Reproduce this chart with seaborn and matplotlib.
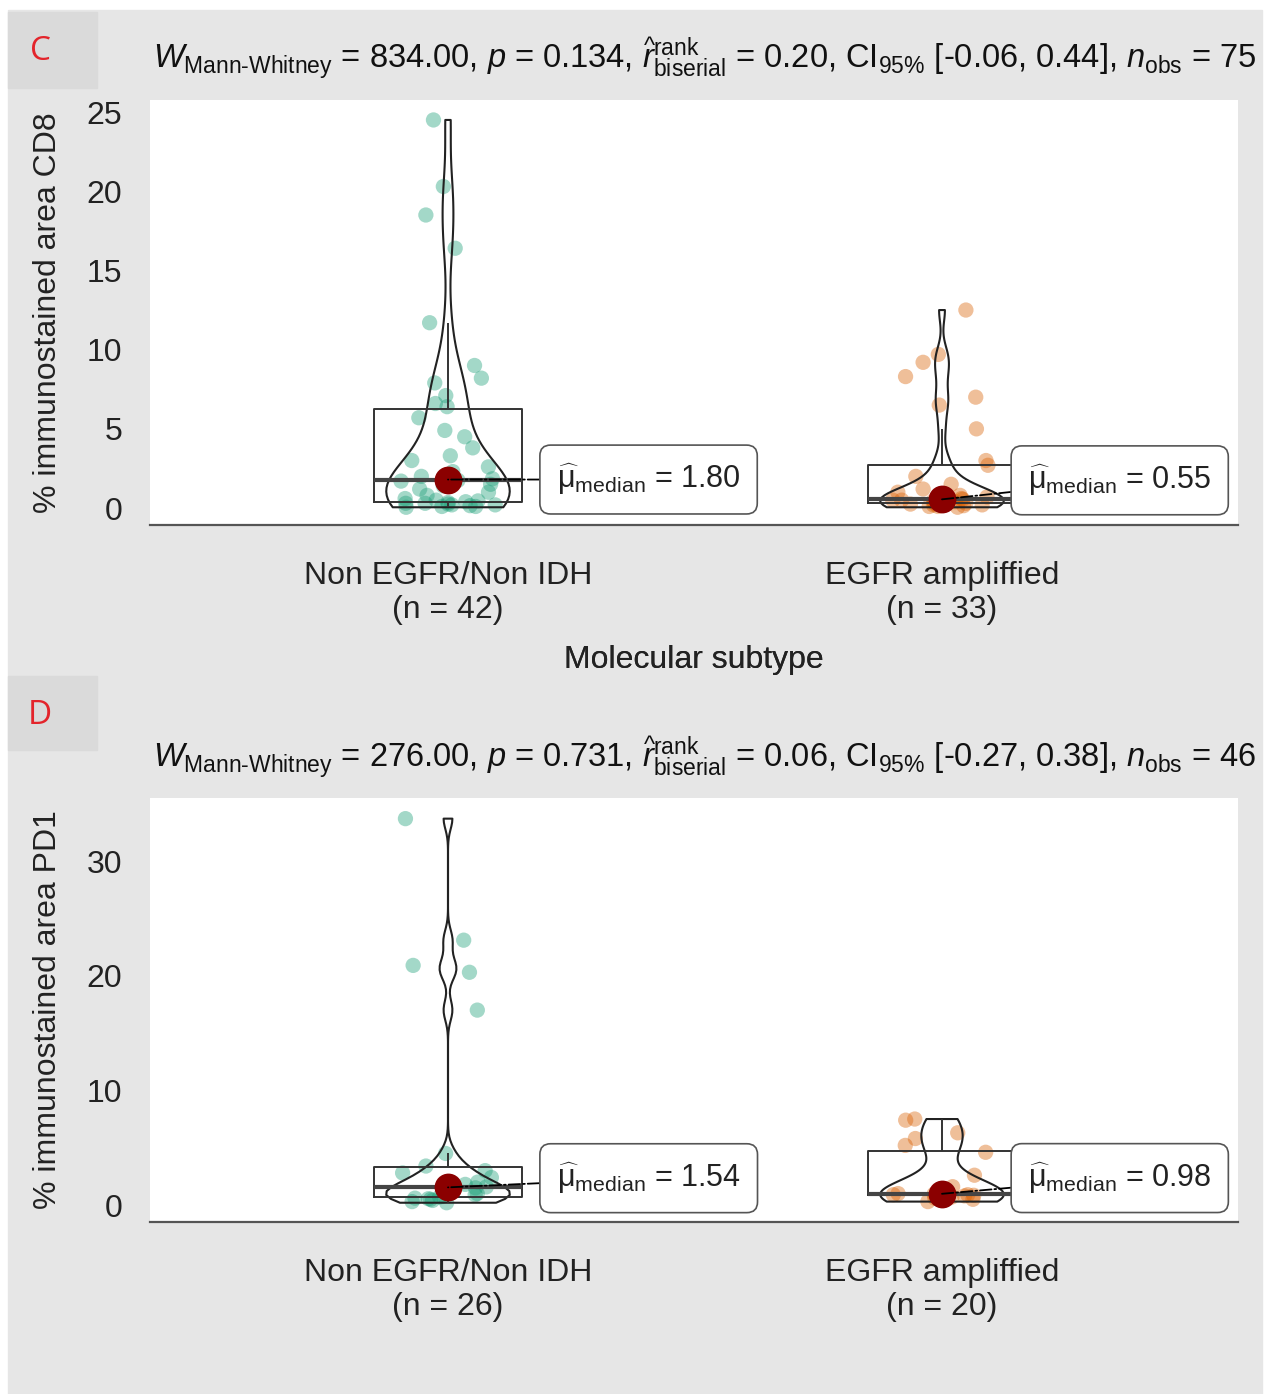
import numpy as np
import pandas as pd
import matplotlib
matplotlib.use("Agg")
import matplotlib.pyplot as plt
import matplotlib.patches as mpatches
import seaborn as sns

# ---------------- data ----------------
groups = ["Non EGFR/Non IDH", "EGFR ampliffied"]

cd8_non = [0.05, 0.1, 0.1, 0.15, 0.2, 0.2, 0.25, 0.3, 0.3, 0.35, 0.4, 0.45,
           0.5, 0.6, 0.8, 1.0, 1.2, 1.4, 1.5, 1.7, 1.75, 1.85,
           2.0, 2.3, 2.6, 3.0, 3.3, 3.8, 4.5, 4.9, 5.7, 6.4,
           6.6, 7.1, 7.9, 8.2, 9.0, 11.7, 16.4, 18.5, 20.3, 24.5]
cd8_egfr = [0.05, 0.1, 0.1, 0.15, 0.2, 0.2, 0.25, 0.3, 0.3,
            0.35, 0.4, 0.4, 0.45, 0.5, 0.5, 0.55, 0.55,
            0.6, 0.7, 0.8, 1.0, 1.2, 1.5, 2.0, 2.7,
            3.0, 5.0, 6.5, 7.0, 8.3, 9.2, 9.7, 12.5]
pd1_non = [0.2, 0.3, 0.4, 0.5, 0.55, 0.6, 0.7, 0.75, 0.9, 1.0, 1.2, 1.4, 1.5,
           1.58, 1.8, 2.0, 2.4, 2.8, 3.0, 3.4, 4.5, 17.0, 20.3, 20.9, 23.1, 33.7]
pd1_egfr = [0.3, 0.5, 0.6, 0.7, 0.8, 0.85, 0.9, 0.9, 0.95, 0.96, 1.0, 1.2,
            1.6, 2.6, 4.6, 5.2, 5.8, 6.3, 7.4, 7.5]

panel_letters = ["C", "D"]
y_labels = ["% immunostained area CD8", "% immunostained area PD1"]
x_label = "Molecular subtype"
W_vals = [834.00, 276.00]
p_vals = ["0.134", "0.731"]
r_vals = [0.20, 0.06]
ci_lo = [-0.06, -0.27]
ci_hi = [0.44, 0.38]
n_obs = [75, 46]
y_ticks = [[0, 5, 10, 15, 20, 25], [0, 10, 20, 30]]

panels = [(cd8_non, cd8_egfr), (pd1_non, pd1_egfr)]

# ---------------- style ----------------
sns.set_theme(style="white")
plt.rcParams["font.family"] = ["Liberation Sans", "DejaVu Sans"]
plt.rcParams["mathtext.fontset"] = "custom"
plt.rcParams["mathtext.rm"] = "Liberation Sans"
plt.rcParams["mathtext.it"] = "Liberation Sans:italic"
plt.rcParams["mathtext.bf"] = "Liberation Sans:bold"
plt.rcParams["mathtext.sf"] = "Liberation Sans"

W, H = 1265, 1394
fig = plt.figure(figsize=(W / 100, H / 100), dpi=100, facecolor="white")
BG = "#e6e6e6"
fig.patches.append(mpatches.Rectangle((8 / W, 0), 1254 / W, (H - 10) / H,
                                      transform=fig.transFigure, color=BG, zorder=-10))

pal = ["#1B9E77", "#D95F02"]
line_col = "#333333"

# layout (pixels)
ax_left, ax_right = 150, 1238
ax_tops = [100, 798]
ax_bottoms = [525, 1222]
ylims = [(-1.07, 25.76), (-1.48, 35.5)]
title_y = [58, 757]
letter_box_y = [(12, 88), (676, 750)]
# label offsets (x in category units, y in data units) for the median labels
lab_dx = [[0.22, 0.174], [0.22, 0.174]]
lab_dy = [[0.0, 1.2], [0.8, 1.37]]

np.random.seed(7)

for k in range(2):
    top, bot = ax_tops[k], ax_bottoms[k]
    ax = fig.add_axes([ax_left / W, 1 - bot / H, (ax_right - ax_left) / W, (bot - top) / H])
    ax.set_facecolor("white")
    a, b = panels[k]
    df = pd.DataFrame({"group": [groups[0]] * len(a) + [groups[1]] * len(b),
                       "value": a + b})

    sns.stripplot(data=df, x="group", y="value", hue="group", order=groups,
                  hue_order=groups, palette=pal, alpha=0.4, size=11, jitter=0.1,
                  linewidth=0, legend=False, ax=ax, zorder=1)

    sns.boxplot(data=df, x="group", y="value", order=groups, ax=ax, width=0.3,
                fill=False, color=line_col, linewidth=1.4, showfliers=False,
                showcaps=False, medianprops={"linewidth": 3.0, "color": "#444444"})

    for gi, vals in enumerate((a, b)):
        v = np.asarray(vals)
        sd = v.std(ddof=1)
        iqr = np.subtract(*np.percentile(v, [75, 25]))
        bw = 0.9 * min(sd, iqr / 1.34) * len(v) ** (-0.2)
        sub = df[df["group"] == groups[gi]]
        sns.violinplot(data=sub, x="group", y="value", order=groups, ax=ax,
                       fill=False, inner=None, cut=0, bw_method=bw / sd,
                       density_norm="width", width=0.25, color="#222222",
                       linewidth=1.5)

    sns.pointplot(data=df, x="group", y="value", order=groups, estimator="median",
                  errorbar=None, color="#8B0000", markers="o", markersize=18,
                  linestyle="none", ax=ax, zorder=6)

    meds = df.groupby("group")["value"].median()
    for gi, g in enumerate(groups):
        m = meds[g]
        ax.annotate(r"$\widehat{\mathrm{\mu}}_{\mathrm{median}}$ = %.2f" % m,
                    xy=(gi, m), xytext=(gi + lab_dx[k][gi], m + lab_dy[k][gi]),
                    ha="left", va="center", fontsize=22, color="#222222", zorder=7,
                    bbox=dict(boxstyle="round,pad=0.55,rounding_size=0.35",
                              fc="white", ec="#555555", lw=1.2),
                    arrowprops=dict(arrowstyle="-", linestyle="-.", color="black",
                                    lw=1.3, shrinkA=0, shrinkB=0))

    ax.set_xlim(-(448 - ax_left) / 494, 1 + (ax_right - 942) / 494)
    ax.set_ylim(*ylims[k])
    ax.set_yticks(y_ticks[k])
    ax.set_yticklabels([str(t) for t in y_ticks[k]])
    n_counts = [len(a), len(b)]
    ax.set_xticks([0, 1])
    ax.set_xticklabels([f"{g}\n(n = {n})" for g, n in zip(groups, n_counts)],
                       linespacing=1.15)
    ax.tick_params(axis="both", length=0, labelsize=23, colors="#222222")
    ax.tick_params(axis="x", pad=26)
    ax.tick_params(axis="y", pad=20)
    for s in ["left", "top", "right"]:
        ax.spines[s].set_visible(False)
    ax.spines["bottom"].set_color("#555555")
    ax.spines["bottom"].set_linewidth(1.6)

    ax.set_xlabel(x_label, fontsize=23, color="#222222")
    ax.xaxis.label.set_va("center")
    ax.xaxis.set_label_coords(0.5, (bot - 660) / (bot - top))
    ax.set_ylabel(y_labels[k], fontsize=23, color="#222222")
    ax.yaxis.label.set_va("center")
    ax.yaxis.set_label_coords((48 - ax_left) / (ax_right - ax_left), 0.5)

    title = (r"$W_{\mathrm{Mann\text{-}Whitney}}$ = %.2f, $p$ = %s, "
             r"$\widehat{r}_{\mathrm{biserial}}^{\mathrm{rank}}$ = %.2f, "
             r"CI$_{95\%%}$ [%.2f, %.2f], $n_{\mathrm{obs}}$ = %d"
             % (W_vals[k], p_vals[k], r_vals[k], ci_lo[k], ci_hi[k], n_obs[k]))
    fig.text(153 / W, 1 - title_y[k] / H, title, ha="left", va="center",
             fontsize=23.5, color="#111111")

    y0, y1 = letter_box_y[k]
    fig.patches.append(mpatches.Rectangle((8 / W, 1 - y1 / H), 89 / W, (y1 - y0) / H,
                                          transform=fig.transFigure, color="#dadada",
                                          zorder=-5))
    fig.text(40 / W, 1 - ((y0 + y1) / 2 + 2) / H, panel_letters[k], ha="center",
             va="center", fontsize=24, color="#e3242b", family="Open Sans")

fig.savefig("out.png", dpi=100, facecolor=fig.get_facecolor())
